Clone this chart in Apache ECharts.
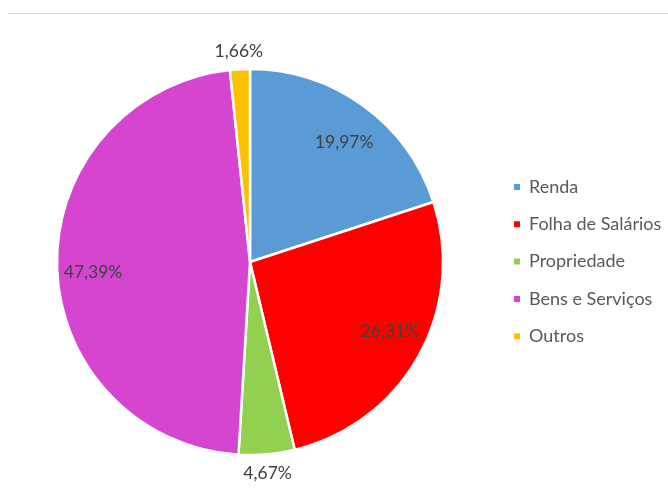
<!DOCTYPE html>
<html><head><meta charset="utf-8">
<script src="https://cdn.jsdelivr.net/npm/echarts@6/dist/echarts.min.js"></script>
<style>html,body{margin:0;padding:0;background:#fff}#c{width:668px;height:502px}</style>
</head><body><div id="c"></div>
<script>
var categories = ["Renda", "Folha de Salários", "Propriedade", "Bens e Serviços", "Outros"];
var values = [19.97, 26.31, 4.67, 47.39, 1.66];
var labels = ["19,97%", "26,31%", "4,67%", "47,39%", "1,66%"];
var colors = ["#5b9bd5", "#ff0000", "#92d050", "#d645d0", "#ffc000"];
var innerLabelIdx = [0, 1, 3];
var outerLabelIdx = [2, 4];
var labelNudge = [[2, 7], [3, -7], [-1, -2], [0, 7], [0, 3]];

var FONT = "Lato";
var cx = 250, cy = 262, R = 193;

function mkData(showIdx, transparent) {
  return categories.map(function (n, i) {
    return {
      name: n, value: values[i],
      itemStyle: transparent ? { color: 'rgba(0,0,0,0)', borderWidth: 0 } : { color: colors[i] },
      label: { show: showIdx.indexOf(i) >= 0, formatter: labels[i], offset: labelNudge[i] }
    };
  });
}

var chart = echarts.init(document.getElementById('c'));
chart.setOption({
  animation: false,
  color: colors,
  graphic: [{ type: 'line', shape: { x1: 8, y1: 13.5, x2: 668, y2: 13.5 }, style: { stroke: '#d9d9d9', lineWidth: 1 } }],
  legend: {
    orient: 'vertical', left: 512, top: 177, padding: 0,
    icon: 'rect', itemWidth: 8, itemHeight: 8, itemGap: 17.3,
    data: categories,
    textStyle: { fontFamily: FONT, fontSize: 18, color: '#595959', lineHeight: 20, padding: [0, 0, 0, 3] }
  },
  series: [
    {
      type: 'pie', center: [cx, cy], radius: [0, R], startAngle: 90, clockwise: true,
      silent: true, data: mkData([], false),
      itemStyle: { borderColor: '#fff', borderWidth: 2.5 },
      label: { show: false }, labelLine: { show: false }
    },
    {
      type: 'pie', center: [cx, cy], radius: [0, 308], startAngle: 90, clockwise: true,
      silent: true, data: mkData(innerLabelIdx, true), legendHoverLink: false,
      label: { position: 'inside', fontFamily: FONT, fontSize: 17.5, color: '#404040' },
      labelLine: { show: false }, z: 3
    },
    {
      type: 'pie', center: [cx, cy], radius: [0, 422], startAngle: 90, clockwise: true,
      silent: true, data: mkData(outerLabelIdx, true), legendHoverLink: false,
      label: { position: 'inside', fontFamily: FONT, fontSize: 17.5, color: '#404040' },
      labelLine: { show: false }, z: 3
    }
  ]
});
</script></body></html>
